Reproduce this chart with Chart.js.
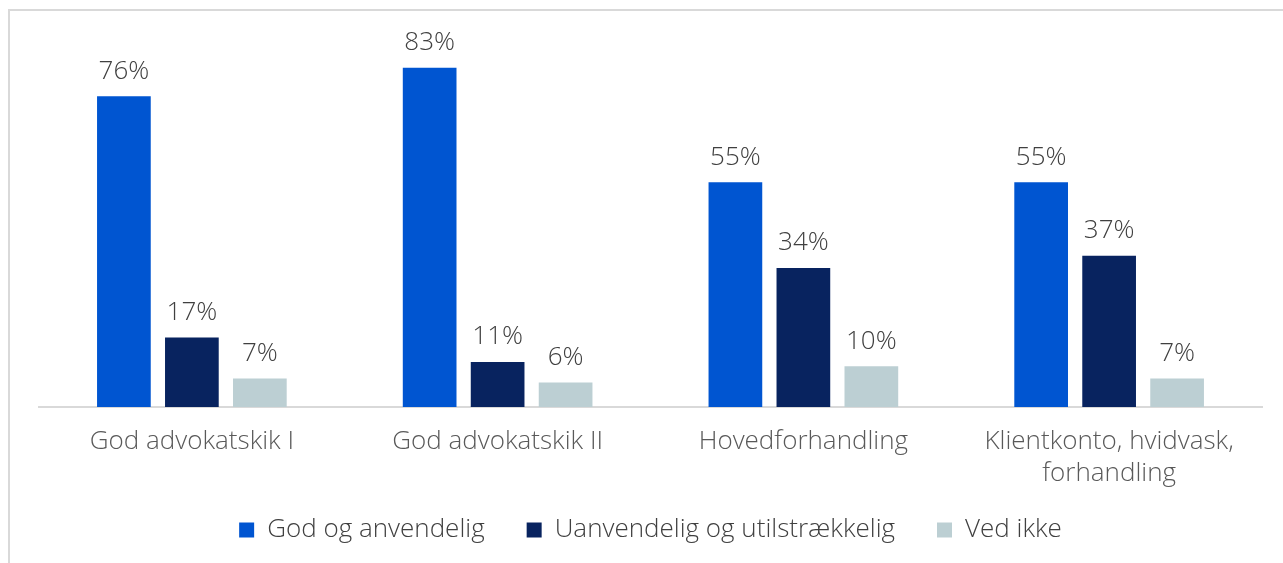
<!DOCTYPE html>
<html>
<head>
<meta charset="utf-8">
<script src="https://cdn.jsdelivr.net/npm/chart.js@4"></script>
<style>
  html, body { margin:0; padding:0; background:#fff; overflow:hidden; }
  #frame { position:absolute; left:8px; top:9px; width:1300px; height:600px;
           border-left:2px solid #d9d9d9; border-top:2px solid #d9d9d9; }
  #c { position:absolute; left:0; top:0; }
</style>
</head>
<body>
<div id="frame"></div>
<canvas id="c" width="1283" height="563"></canvas>
<script>
// ── Data ────────────────────────────────────────────────────────────────
const categories = [
  'God advokatskik I',
  'God advokatskik II',
  'Hovedforhandling',
  ['Klientkonto, hvidvask,', 'forhandling'],
];
const godOgAnvendelig   = [76, 83, 55, 55];
const uanvendelig       = [17, 11, 34, 37];
const vedIkke           = [7, 6, 10, 7];

const seriesNames  = ['God og anvendelig', 'Uanvendelig og utilstrækkelig', 'Ved ikke'];
const seriesColors = ['#0055d1', '#08235f', '#bccfd3'];

const FONT = "'Open Sans', sans-serif";
const FS   = 26;

// Draw "NN%" above each bar (no datalabels plugin available offline)
const valueLabels = {
  id: 'valueLabels',
  afterDatasetsDraw(chart) {
    const ctx = chart.ctx;
    ctx.save();
    ctx.font = `300 ${FS}px ${FONT}`;
    ctx.fillStyle = '#404040';
    ctx.textAlign = 'center';
    ctx.textBaseline = 'bottom';
    chart.data.datasets.forEach((ds, di) => {
      chart.getDatasetMeta(di).data.forEach((bar, i) => {
        ctx.fillText(ds.data[i] + '%', bar.x, bar.y - 12);
      });
    });
    ctx.restore();
  }
};

const seriesData = [godOgAnvendelig, uanvendelig, vedIkke];

new Chart(document.getElementById('c'), {
  type: 'bar',
  data: {
    labels: categories,
    datasets: seriesData.map((d, i) => ({
      label: seriesNames[i], data: d, backgroundColor: seriesColors[i],
      categoryPercentage: 0.667, barPercentage: 0.79,
    })),
  },
  options: {
    responsive: false, animation: false,
    layout: { padding: { left: 39, right: 21, top: 39, bottom: 10 } },
    plugins: {
      legend: {
        position: 'bottom',
        labels: {
          color: '#404040', font: { family: FONT, size: FS, weight: 300 },
          boxWidth: 15, boxHeight: 15, padding: 16,
          // widen the gap between items without growing the legend's height
          generateLabels: chart => {
            const items = Chart.defaults.plugins.legend.labels.generateLabels(chart);
            items.forEach((it, i) => { if (i < items.length - 1) it.text += '\u2003'; });
            return items;
          },
        },
      },
      tooltip: { enabled: false },
    },
    scales: {
      x: {
        grid: { display: false },
        border: { color: '#d9d9d9', width: 2 },
        ticks: { color: '#595959', font: { family: FONT, size: FS, weight: 300, lineHeight: 1.23 },
                 padding: 11, maxRotation: 0 },
      },
      y: { display: false, min: 0, max: 90 },
    },
  },
  plugins: [valueLabels],
});
</script>
</body>
</html>
